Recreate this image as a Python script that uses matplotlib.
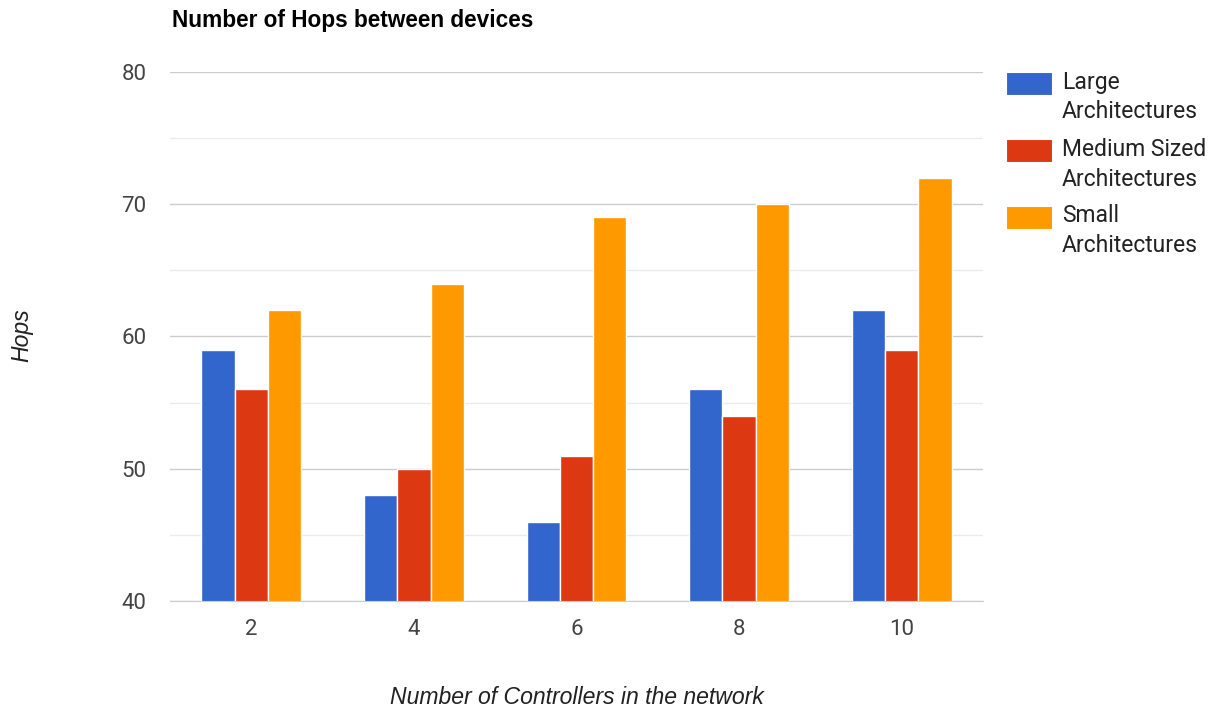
import matplotlib
matplotlib.use("Agg")
import matplotlib.pyplot as plt
from matplotlib.patches import Rectangle
import numpy as np

# Data
controllers = ["2", "4", "6", "8", "10"]
series_names = ["Large\nArchitectures", "Medium Sized\nArchitectures", "Small\nArchitectures"]
large = [59, 48, 46, 56, 62]
medium = [56, 50, 51, 54, 59]
small = [62, 64, 69, 70, 72]
colors = ["#3366cc", "#dc3912", "#ff9900"]
y_ticks = [40, 50, 60, 70, 80]

W, H = 1217, 713
fig = plt.figure(figsize=(W / 100, H / 100), dpi=100)
ax = fig.add_axes([170 / W, (H - 601) / H, (983 - 170) / W, (601 - 72) / H])

x = np.arange(len(controllers))
bar_w = 0.205
for i, (vals, name, c) in enumerate(zip([large, medium, small], series_names, colors)):
    ax.bar(x + (i - 1) * bar_w, vals, width=bar_w, color=c, edgecolor="white",
           linewidth=1.0, label=name, zorder=3)

ax.set_xlim(-0.5, len(controllers) - 0.5)
ax.set_ylim(40, 80)
ax.set_yticks(y_ticks)
ax.set_yticks(np.arange(45, 80, 10), minor=True)
ax.set_xticks(x)
ax.set_xticklabels(controllers)

ax.grid(axis="y", which="major", color="#cccccc", linewidth=1.0, zorder=0)
ax.grid(axis="y", which="minor", color="#ebebeb", linewidth=1.0, zorder=0)
for s in ["top", "right", "left"]:
    ax.spines[s].set_visible(False)
ax.spines["bottom"].set_color("#cccccc")
ax.spines["bottom"].set_zorder(4)

ax.tick_params(axis="both", which="both", length=0, labelsize=16, labelcolor="#444444",
               labelfontfamily="Roboto")
ax.tick_params(axis="y", pad=17)
ax.tick_params(axis="x", pad=13)

fig.text(172 / W, 1 - 21 / H, "Number of Hops between devices", fontsize=16.3,
         fontweight="bold", family="Liberation Sans", color="#000000", va="center", ha="left")
fig.text(577 / W, 1 - 698 / H, "Number of Controllers in the network", fontsize=16.6,
         style="italic", family="Liberation Sans", color="#222222", va="center", ha="center")
fig.text(22 / W, 1 - 335 / H, "Hops", fontsize=16.6, style="italic", family="Liberation Sans",
         color="#222222", va="center", ha="center", rotation=90)

# Legend: colour swatch beside a two-line label per series
box_tops = [72, 139, 206]
for name, c, top in zip(series_names, colors, box_tops):
    fig.patches.append(Rectangle((1006 / W, 1 - (top + 23) / H), 46 / W, 23 / H,
                                 transform=fig.transFigure, facecolor=c,
                                 edgecolor="white", linewidth=0.8))
    for k, line in enumerate(name.split("\n")):
        fig.text(1062 / W, 1 - (top + 10 + 30 * k) / H, line, fontsize=16.5,
                 family="Roboto", color="#222222", va="center", ha="left")

fig.savefig("out.png", dpi=100, facecolor="white")
